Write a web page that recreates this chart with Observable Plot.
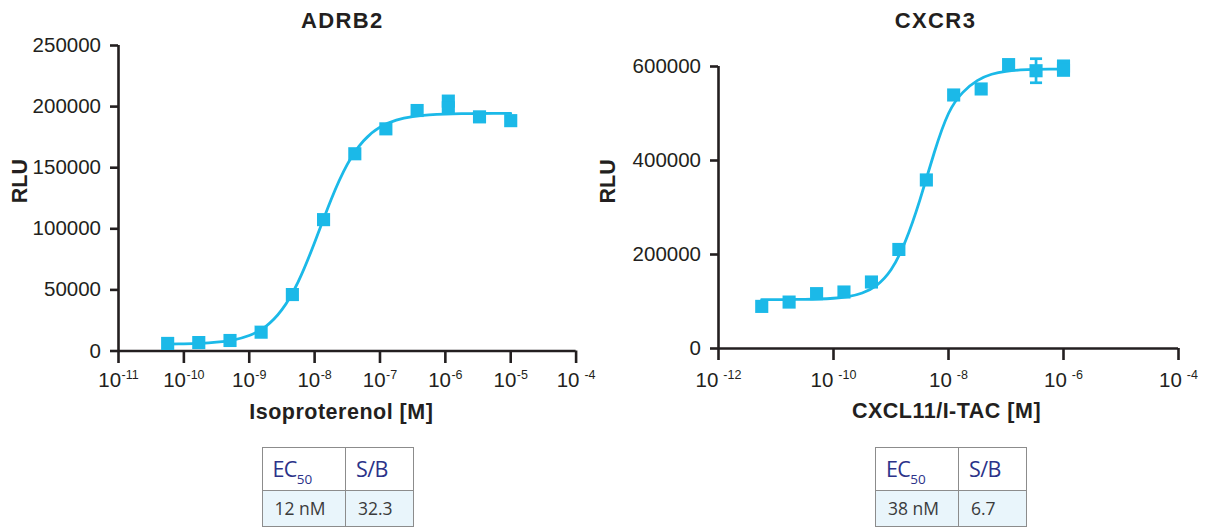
<!DOCTYPE html>
<html><head><meta charset="utf-8">
<script src="https://cdn.jsdelivr.net/npm/d3@7"></script>
<script src="https://cdn.jsdelivr.net/npm/@observablehq/plot@0.6"></script>
<style>
body{margin:0;background:#fff;}
#wrap{position:relative;width:1208px;height:527px;overflow:hidden;background:#fff;}
.chart{position:absolute;top:0;}
table.res{position:absolute;border-collapse:collapse;table-layout:fixed;font-family:"Open Sans","Noto Sans",sans-serif;}
table.res td{border:1.3px solid #8c8c8c;padding:0 0 0 10px;vertical-align:middle;white-space:nowrap;}
table.res tr.h td{height:42px;color:#2b3289;font-size:21.5px;letter-spacing:-0.6px;background:#fff;}
table.res tr.d td{height:35px;color:#3b3b3b;font-size:17.5px;background:#e9f5fb;}
table.res sub{font-size:13.5px;vertical-align:-7px;line-height:0;letter-spacing:0;}
</style></head><body><div id="wrap"></div>
<script>
// ---------- data ----------
// ADRB2 (Isoproterenol)
const adrb2Conc = [5.65e-11, 1.69e-10, 5.08e-10, 1.52e-9, 4.57e-9, 1.37e-8, 4.12e-8, 1.23e-7, 3.70e-7, 1.11e-6, 1.11e-6, 3.33e-6, 1.00e-5];
const adrb2RLU  = [6200, 6900, 8600, 15400, 46200, 107500, 161400, 181800, 196800, 204500, 199000, 191600, 188500];
const adrb2FitLogConc = [-10.25,-10,-9.75,-9.5,-9.25,-9,-8.75,-8.5,-8.25,-8,-7.75,-7.5,-7.25,-7,-6.75,-6.5,-6.25,-6,-5.75,-5.5,-5.25,-5];
const adrb2FitRLU = [5700,5900,6300,7200,9000,12700,20000,33800,56800,88800,123600,152700,172100,183200,189000,191800,193200,193900,194200,194350,194450,194500];
const adrb2XTicks = [1e-11,1e-10,1e-9,1e-8,1e-7,1e-6,1e-5,1e-4];
const adrb2XTickLabels = ["10^-11","10^-10","10^-9","10^-8","10^-7","10^-6","10^-5","10 ^-4"];
const adrb2YTicks = [0,50000,100000,150000,200000,250000];

// CXCR3 (CXCL11/I-TAC)
const cxcr3Conc = [5.65e-12, 1.69e-11, 5.08e-11, 1.52e-10, 4.57e-10, 1.37e-9, 4.12e-9, 1.23e-8, 3.70e-8, 1.11e-7, 3.33e-7, 1.00e-6, 1.00e-6];
const cxcr3RLU  = [89600, 98800, 116700, 120200, 141500, 210700, 358600, 539400, 552200, 604000, 591000, 601000, 592000];
const cxcr3ErrConc = [3.33e-7];
const cxcr3ErrLow  = [565400];
const cxcr3ErrHigh = [616600];
const cxcr3FitLogConc = [-11.25,-11,-10.75,-10.5,-10.25,-10,-9.75,-9.5,-9.25,-9,-8.75,-8.5,-8.25,-8,-7.75,-7.5,-7.25,-7,-6.75,-6.5,-6.25,-6];
const cxcr3FitRLU = [104050,104100,104260,104580,105300,106900,110400,118100,134500,167400,228000,315000,416000,500000,545000,570000,583500,589800,592700,594000,594500,594700];
const cxcr3XTicks = [1e-12,1e-10,1e-8,1e-6,1e-4];
const cxcr3XTickLabels = ["10 ^-12","10 ^-10","10 ^-8","10 ^-6","10 ^-4"];
const cxcr3YTicks = [0,200000,400000,600000];

// tables
const tableHeader = ["EC|50", "S/B"];
const adrb2Table = ["12 nM", "32.3"];
const cxcr3Table = ["38 nM", "6.7"];

// ---------- drawing ----------
const ink = "#231f20";
const cyan = "#1bb9e8";
const capSymbol = {draw(ctx, size){ const w = Math.sqrt(size); ctx.moveTo(-w/2, 0); ctx.lineTo(w/2, 0); }};

function chart(o){
  const pts = o.conc.map((c,i)=>({x:c, y:o.rlu[i]}));
  const fit = o.fitLog.map((l,i)=>({x:10**l, y:o.fitRLU[i]}));
  const labelMap = new Map(o.xTicks.map((t,i)=>[t, o.xTickLabels[i]]));
  const marks = [
    Plot.axisX({ticks: o.xTicks, tickFormat: d => labelMap.get(d), tickSize: o.xTickSize, tickPadding: o.xTickPadding,
      stroke: ink, fill: ink, strokeWidth: 2.6, fontSize: 20.5, label: null}),
    Plot.axisY({ticks: o.yTicks, tickFormat: d => String(d), tickSize: 8, tickPadding: 9.5,
      stroke: ink, fill: ink, strokeWidth: 2.6, fontSize: 20.5, label: null}),
    Plot.ruleY([0], {stroke: ink, strokeWidth: 2.6}),
    Plot.ruleX([o.xTicks[0]], {stroke: ink, strokeWidth: 2.6}),
    Plot.line(fit, {x:"x", y:"y", stroke: cyan, strokeWidth: 2.8, curve: "natural"}),
  ];
  if (o.err) {
    const e = o.err.conc.map((c,i)=>({x:c, lo:o.err.lo[i], hi:o.err.hi[i]}));
    marks.push(Plot.ruleX(e, {x:"x", y1:"lo", y2:"hi", stroke: cyan, strokeWidth: 2.7}));
    marks.push(Plot.dot(e, {x:"x", y:"lo", symbol: capSymbol, r: 6.8, stroke: cyan, fill: "none", strokeWidth: 2.7}));
    marks.push(Plot.dot(e, {x:"x", y:"hi", symbol: capSymbol, r: 6.8, stroke: cyan, fill: "none", strokeWidth: 2.7}));
  }
  marks.push(Plot.dot(pts, {x:"x", y:"y", symbol:"square", r: 7.4, fill: cyan, stroke: "none"}));
  marks.push(Plot.text([o.title], {text: d=>d, frameAnchor:"top", dx: o.titleDx, dy: o.titleDy, lineAnchor:"bottom",
    fontWeight:"bold", fontSize: 22, fill: ink}));
  marks.push(Plot.text([o.xLabel], {text: d=>d, frameAnchor:"bottom", dx: o.xLabelDx, dy: o.xLabelDy, lineAnchor:"bottom",
    fontWeight:"bold", fontSize: 21.5, fill: ink}));
  marks.push(Plot.text(["RLU"], {text: d=>d, frameAnchor:"left", rotate: -90, dx: o.yLabelDx, dy: o.yLabelDy, lineAnchor:"middle",
    fontWeight:"bold", fontSize: 21.5, fill: ink}));

  const svg = Plot.plot({
    width: o.width, height: 430,
    marginLeft: o.ml, marginRight: o.mr, marginTop: o.mt, marginBottom: o.mb,
    style: {fontFamily: '"Liberation Sans", Arial, Helvetica, sans-serif', background: "#fff", overflow: "visible"},
    x: {type: "log", domain: [o.xTicks[0], o.xTicks[o.xTicks.length-1]]},
    y: {domain: [0, o.yTicks[o.yTicks.length-1]]},
    marks
  });
  // superscript exponents in tick labels
  d3.select(svg).selectAll('g[aria-label="x-axis tick label"] text').each(function(){
    const s = this.textContent; const [base, sup] = s.split("^");
    this.textContent = "";
    const t = d3.select(this);
    t.append("tspan").text(base.trim());
    t.append("tspan").attr("dx", base.endsWith(" ") ? 5 : 0.5).attr("dy", -8).attr("font-size", 12.5).text(sup);
  });
  d3.select(svg).selectAll("text").filter(function(){ return this.textContent === o.title; })
    .style("letter-spacing", "1.4px");
  d3.select(svg).selectAll("text").filter(function(){ return this.textContent === o.xLabel; })
    .style("letter-spacing", "0.5px");
  svg.classList.add("chart");
  svg.style.left = o.left + "px";
  return svg;
}

function table(values, left, widths){
  const t = document.createElement("table");
  t.className = "res";
  t.style.left = left + "px"; t.style.top = "446.5px";
  t.style.width = (widths[0]+widths[1]) + "px";
  const cg = document.createElement("colgroup");
  widths.forEach(w => { const c = document.createElement("col"); c.style.width = w + "px"; cg.appendChild(c); });
  t.appendChild(cg);
  const h = t.insertRow(); h.className = "h";
  tableHeader.forEach(s => {
    const td = h.insertCell(); const [a, b] = s.split("|");
    td.textContent = a;
    if (b) { const sub = document.createElement("sub"); sub.textContent = b; td.appendChild(sub); }
  });
  const r = t.insertRow(); r.className = "d";
  values.forEach(s => { const td = r.insertCell(); td.textContent = s; td.style.paddingLeft = "12px"; });
  return t;
}

const wrap = document.getElementById("wrap");
wrap.appendChild(chart({
  title: "ADRB2", xLabel: "Isoproterenol [M]",
  conc: adrb2Conc, rlu: adrb2RLU, fitLog: adrb2FitLogConc, fitRLU: adrb2FitRLU,
  xTicks: adrb2XTicks, xTickLabels: adrb2XTickLabels, yTicks: adrb2YTicks,
  width: 600, left: 0, ml: 118, mr: 24.4, mt: 45, mb: 79.5,
  xTickSize: 12.5, xTickPadding: 9.3,
  titleDx: -5, titleDy: -18, xLabelDx: -6, xLabelDy: 67.5, yLabelDx: -98.5, yLabelDy: 5
}));
wrap.appendChild(chart({
  title: "CXCR3", xLabel: "CXCL11/I-TAC [M]",
  conc: cxcr3Conc, rlu: cxcr3RLU, fitLog: cxcr3FitLogConc, fitRLU: cxcr3FitRLU,
  err: {conc: cxcr3ErrConc, lo: cxcr3ErrLow, hi: cxcr3ErrHigh},
  xTicks: cxcr3XTicks, xTickLabels: cxcr3XTickLabels, yTicks: cxcr3YTicks,
  width: 608, left: 600, ml: 118, mr: 30, mt: 66, mb: 82,
  xTickSize: 12, xTickPadding: 12.1,
  titleDx: -13, titleDy: -39, xLabelDx: -2, xLabelDy: 69, yLabelDx: -110, yLabelDy: -4
}));
wrap.appendChild(table(adrb2Table, 261.5, [83.5, 67.5]));
wrap.appendChild(table(cxcr3Table, 875, [83, 68]));
</script></body></html>
